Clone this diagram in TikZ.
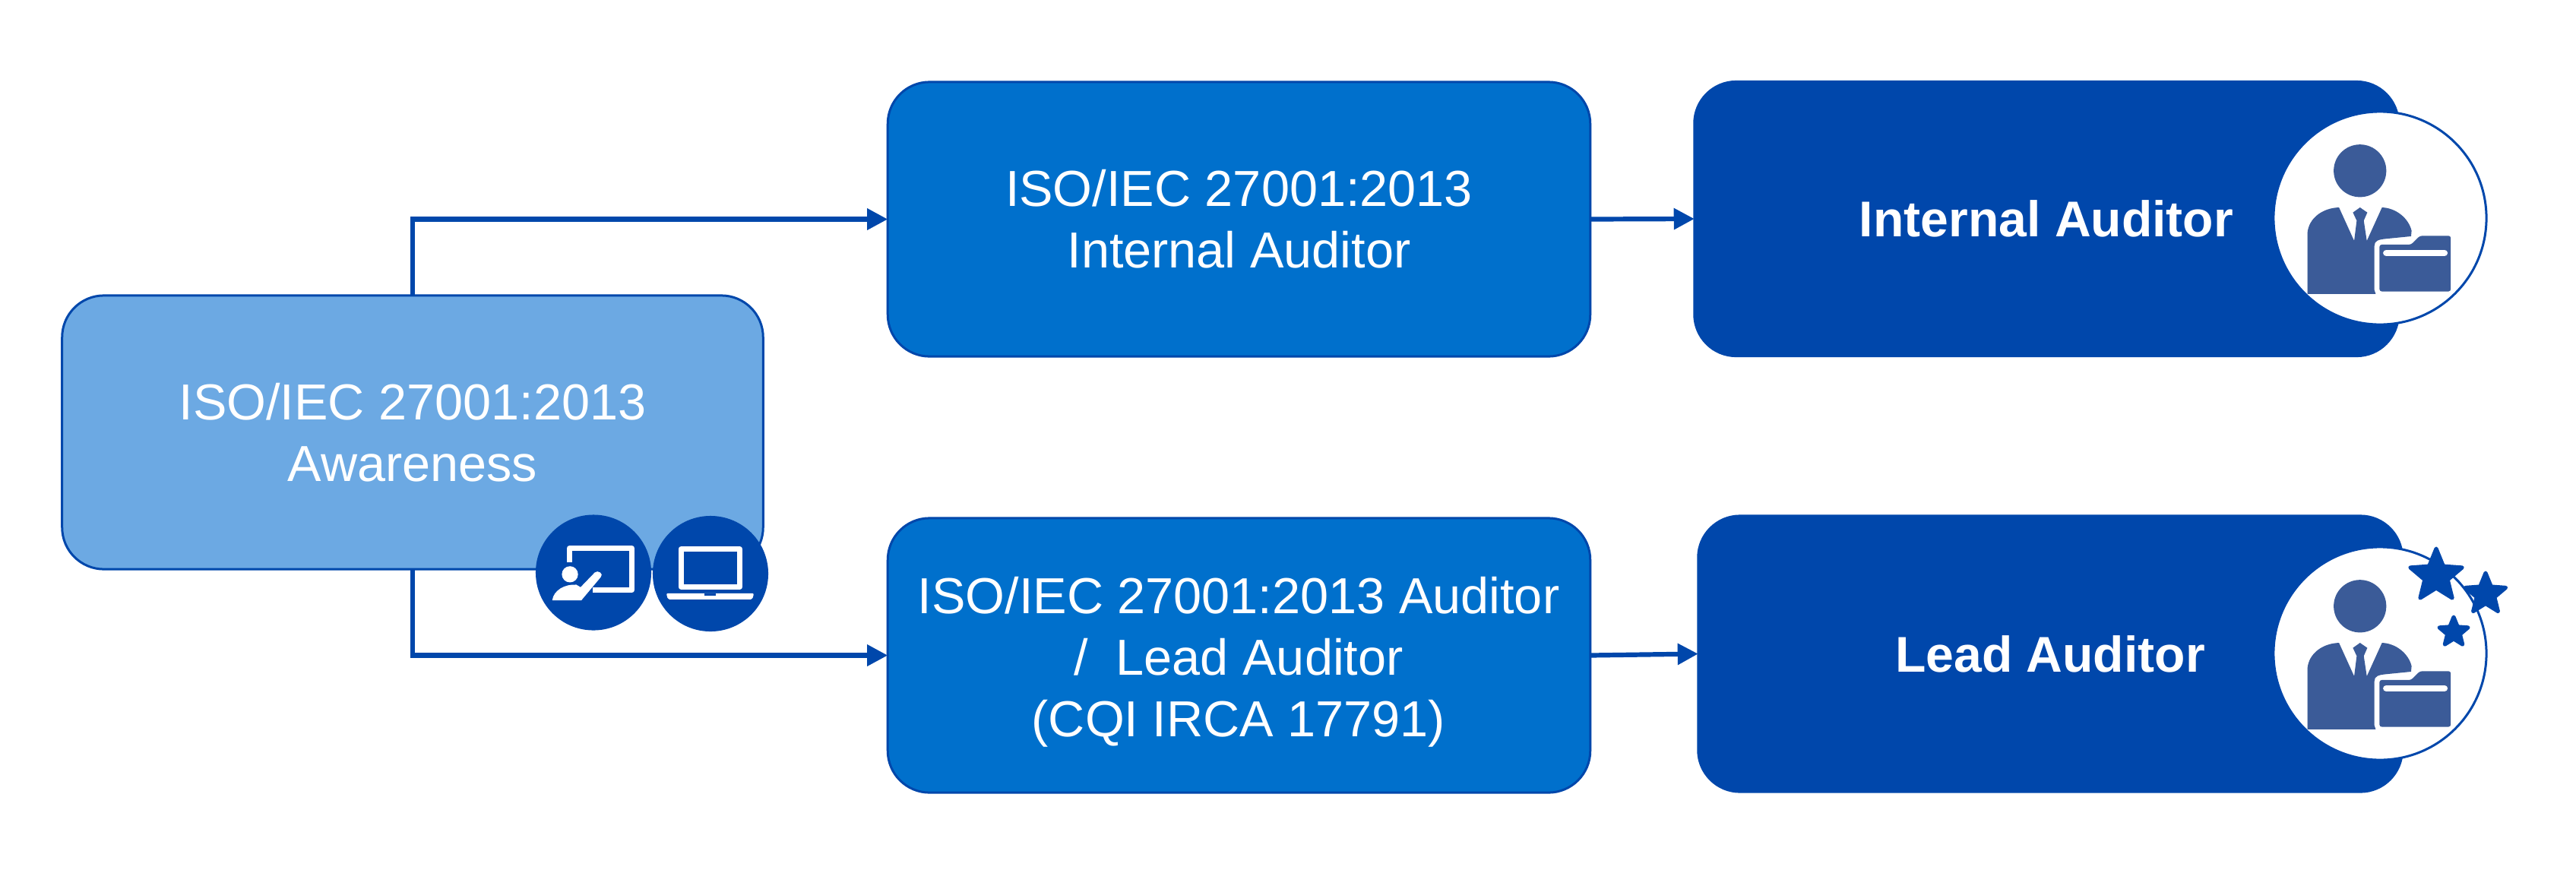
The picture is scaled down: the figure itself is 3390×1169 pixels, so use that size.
\documentclass[tikz,border=0pt]{standalone}
\RequirePackage{fontspec}
\setmainfont{Liberation Sans}
\usetikzlibrary{arrows.meta}
\usetikzlibrary{shapes.geometric}
\definecolor{navyblue}{HTML}{0047AB}
\definecolor{midblue}{HTML}{0070CC}
\definecolor{lightblue}{HTML}{6CA9E3}
\definecolor{slateblue}{HTML}{3B5B98}
\tikzset{
    stagebox/.style={rectangle,rounded corners=0.55cm,draw=navyblue,line width=0.03cm,text=white,
        align=center,inner sep=0pt,outer sep=0pt,font=\fontsize{18.95}{23}\selectfont},
    stagetext/.style={text=white,align=center,inner sep=0pt,font=\fontsize{18.95}{23}\selectfont},
    awarebox/.style={stagebox,fill=lightblue,minimum width=9.22cm,minimum height=3.6cm},
    coursebox/.style={stagebox,fill=midblue,minimum width=9.24cm,minimum height=3.61cm},
    rolebox/.style={stagebox,fill=navyblue,minimum width=9.26cm,font=\fontsize{18.8}{23}\selectfont\bfseries},
    badge/.style={circle,fill=white,draw=navyblue,line width=0.03cm,minimum size=2.8cm,inner sep=0pt},
    iconcircle/.style={circle,fill=navyblue,minimum size=1.52cm,inner sep=0pt},
    flow/.style={navyblue,line width=0.062cm,-{Triangle[length=0.27cm,width=0.27cm]}},
    rankstar/.style={star,star points=5,star point ratio=2.25,fill=navyblue,draw=navyblue,
        line width=0.05cm,line join=round,inner sep=0pt},
    pics/auditor/.style={code={
        \begin{scope}[x=0.00333cm,y=-0.00333cm,shift={(-577,-590)}]
            \fill[slateblue] (498,403) circle (104);
            \fill[slateblue] (290,890) -- (290,650) .. controls (295,590) and (350,550) .. (415,548)
                -- (475,680) -- (485,600) -- (470,568) -- (498,548) -- (527,568) -- (513,600)
                -- (525,680) -- (585,548) .. controls (640,550) and (690,590) .. (702,640)
                -- (700,662) -- (600,672) .. controls (570,675) and (555,680) .. (555,700)
                -- (555,875) -- (560,890) -- cycle;
            \fill[slateblue,rounded corners=0.03cm] (575,695) -- (700,695) -- (735,660) -- (857,660)
                -- (857,880) -- (575,880) -- cycle;
            \draw[white,line width=0.085cm,line cap=round] (602,728) -- (832,728);
        \end{scope}
    }},
    pics/teaching/.style={code={
        \begin{scope}[x=0.00333cm,y=-0.00333cm,shift={(-363,-340)}]
            \draw[white,line width=0.07cm,line join=round] (268,300) -- (268,244) -- (515,244)
                -- (515,409) -- (360,409);
            \fill[white] (270,347) circle (32);
            \fill[white] (200,450) .. controls (205,410) and (250,385) .. (295,388) -- (312,398)
                -- (368,340) .. controls (380,328) and (405,345) .. (392,358) -- (315,450) -- cycle;
        \end{scope}
    }},
    pics/laptop/.style={code={
        \begin{scope}[x=0.00333cm,y=-0.00333cm,shift={(-823,-345)}]
            \draw[white,line width=0.07cm,line join=round] (706,248) rectangle (939,397);
            \fill[white,rounded corners=0.02cm] (648,423) -- (995,423) -- (988,447) -- (655,447) -- cycle;
            \fill[navyblue] (800,423) rectangle (845,432);
        \end{scope}
    }},
}
\begin{document}
\begin{tikzpicture}[x=0.01cm,y=-0.01cm]
    \useasboundingbox (0,0) rectangle (3390,1169);
    \node[awarebox] (aware) at (543,569) {ISO/IEC 27001:2013\\Awareness};
    \node[coursebox] (internalcourse) at (1630.5,288.5) {ISO/IEC 27001:2013\\Internal Auditor};
    \node[coursebox] (leadcourse) at (1630.5,862.5) {};
    \node[stagetext] (leadlabel) at (1630,871) {ISO/IEC 27001:2013 Auditor\\/\ \ Lead Auditor\\(CQI IRCA 17791)};
    \node[rolebox,minimum height=3.61cm] (internalrole) at (2693,288) {\raisebox{-0.03cm}{Internal Auditor}};
    \node[rolebox,minimum height=3.63cm] (leadrole) at (2698,860.5) {\raisebox{-0.03cm}{Lead Auditor}};
    \node[badge] (internalbadge) at (3132,287) {};
    \node[badge] (leadbadge) at (3132,860) {};
    \node[rankstar,minimum size=0.72cm] (starone) at (3206,758) {};
    \node[rankstar,minimum size=0.56cm] (startwo) at (3271,782) {};
    \node[rankstar,minimum size=0.4cm] (starthree) at (3229,832) {};
    \pic at (internalbadge.center) {auditor};
    \pic at (leadbadge.center) {auditor};
    \node[iconcircle] (teachcircle) at (781,753.5) {};
    \node[iconcircle] (laptopcircle) at (935,755) {};
    \pic at (teachcircle.center) {teaching};
    \pic at (laptopcircle.center) {laptop};
    \draw[flow] (aware.north) |- (internalcourse.west);
    \draw[flow] (aware.south) |- (leadcourse.west);
    \draw[flow] (internalcourse.east) -- (internalrole.west);
    \draw[flow] (leadcourse.east) -- (leadrole.west);
\end{tikzpicture}
\end{document}
